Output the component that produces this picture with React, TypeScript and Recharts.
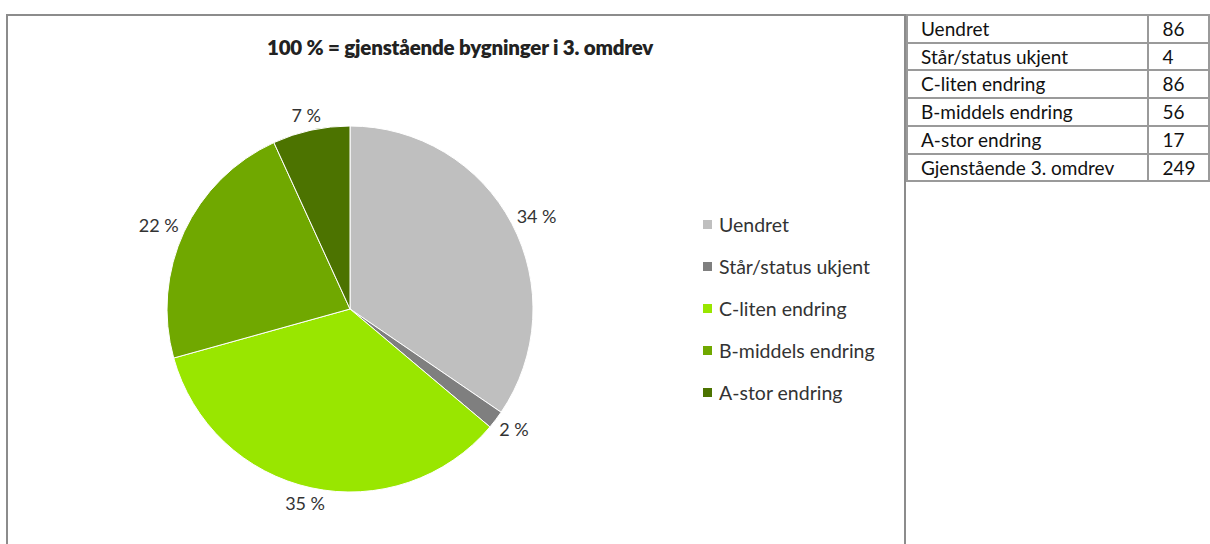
import React from "react";
import { PieChart, Pie, Cell, Legend } from "recharts";

const categories = ["Uendret", "Står/status ukjent", "C-liten endring", "B-middels endring", "A-stor endring"];
const counts = [86, 4, 86, 56, 17];
const percentLabels = ["34 %", "2 %", "35 %", "22 %", "7 %"];
const sliceColors = ["#BFBFBF", "#7F7F7F", "#99E600", "#70A800", "#4C7300"];
const totalLabel = "Gjenstående 3. omdrev";
const totalValue = 249;

const FONT = "Lato, 'Open Sans', sans-serif";

const data = categories.map((name, i) => ({ name, value: counts[i] }));

const RAD = Math.PI / 180;

const renderLabel = (props: any) => {
  const { cx, cy, midAngle, outerRadius, index } = props;
  const text = percentLabels[index];
  const dx = Math.cos(midAngle * RAD);
  const dy = -Math.sin(midAngle * RAD);
  const w = text.length * 10;
  const h = 16;
  const r = outerRadius + 8;
  const x = cx + r * dx + (dx * w) / 2;
  const y = cy + r * dy + (dy * h) / 2;
  return (
    <text
      x={x}
      y={y}
      textAnchor="middle"
      dominantBaseline="central"
      fill="#333"
      fontSize={18}
      fontFamily={FONT}
    >
      {text}
    </text>
  );
};

const renderLegend = () => (
  <div style={{ fontFamily: FONT, fontSize: 19.5, color: "#333" }}>
    {categories.map((name, i) => (
      <div key={name} style={{ display: "flex", alignItems: "center", height: 42 }}>
        <span
          style={{ width: 9, height: 9, background: sliceColors[i], display: "inline-block", marginRight: 7 }}
        />
        <span>{name}</span>
      </div>
    ))}
  </div>
);

const cell: React.CSSProperties = {
  border: "2px solid #9a9a9a",
  padding: "0 0 0 13px",
  height: 25.7,
  lineHeight: "25.7px",
};

export default function App() {
  return (
    <div style={{ position: "absolute", left: 0, top: 0, width: 1210, height: 544, overflow: "hidden", background: "#fff" }}>
      <div
        style={{
          position: "absolute",
          left: 6,
          top: 14,
          width: 896,
          height: 540,
          border: "2px solid #8c8c8c",
        }}
      >
        <div
          style={{
            position: "absolute",
            left: 0,
            width: 896,
            top: 19,
            textAlign: "center",
            fontFamily: FONT,
            fontWeight: 800,
            fontSize: 20.5,
            color: "#222",
            letterSpacing: -0.2,
            paddingLeft: 4,
          }}
        >
          100 % = gjenstående bygninger i 3. omdrev
        </div>
        <PieChart width={896} height={528} style={{ position: "absolute", left: 0, top: 0 }}>
          <Pie
            data={data}
            dataKey="value"
            nameKey="name"
            cx={337}
            cy={288}
            outerRadius={183}
            startAngle={90}
            endAngle={-270}
            stroke="#ffffff"
            strokeWidth={1}
            label={renderLabel}
            labelLine={false}
            isAnimationActive={false}
          >
            {data.map((d, i) => (
              <Cell key={d.name} fill={sliceColors[i]} />
            ))}
          </Pie>
          <Legend
            content={renderLegend}
            wrapperStyle={{ position: "absolute", left: 695, top: 187, width: 200 }}
          />
        </PieChart>
      </div>
      <table
        style={{
          position: "absolute",
          left: 906,
          top: 14,
          borderCollapse: "collapse",
          fontFamily: FONT,
          fontSize: 19,
          color: "#111",
        }}
      >
        <tbody>
          {categories.map((name, i) => (
            <tr key={name}>
              <td style={{ ...cell, width: 231 }}>{name}</td>
              <td style={{ ...cell, width: 46 }}>{counts[i]}</td>
            </tr>
          ))}
          <tr>
            <td style={{ ...cell, width: 231 }}>{totalLabel}</td>
            <td style={{ ...cell, width: 46 }}>{totalValue}</td>
          </tr>
        </tbody>
      </table>
    </div>
  );
}
